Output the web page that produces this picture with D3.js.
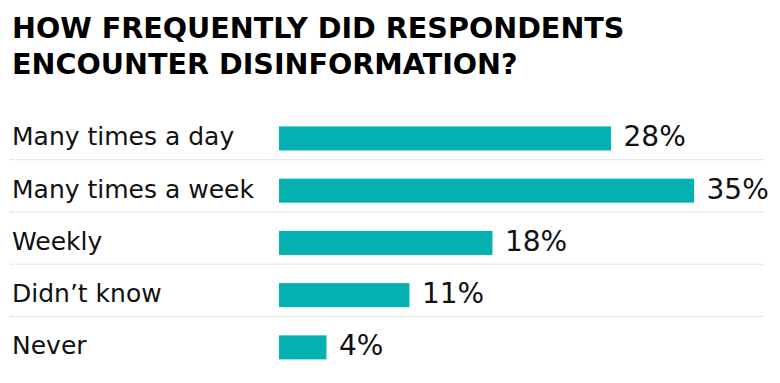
<!DOCTYPE html>
<html>
<head>
<meta charset="utf-8">
<script src="https://cdn.jsdelivr.net/npm/d3@7"></script>
<style>
  html, body { margin: 0; padding: 0; background: #fff; }
  svg { display: block; }
</style>
</head>
<body>
<div id="chart"></div>
<script>
const titleLines = ["HOW FREQUENTLY DID RESPONDENTS", "ENCOUNTER DISINFORMATION?"];
const categories = ["Many times a day", "Many times a week", "Weekly", "Didn\u2019t know", "Never"];
const values = [28, 35, 18, 11, 4];
const valueLabels = ["28%", "35%", "18%", "11%", "4%"];

const W = 780, H = 383;
const FONT = "'DejaVu Sans', sans-serif";
const svg = d3.select("#chart").append("svg").attr("width", W).attr("height", H);

// title
svg.append("g").selectAll("text").data(titleLines).join("text")
  .attr("x", 12)
  .attr("y", (d, i) => 37.5 + i * 36)
  .attr("font-family", FONT)
  .attr("font-weight", "bold")
  .attr("font-size", 28.6)
  .attr("fill", "#000")
  .text(d => d);

const x = d3.scaleLinear().domain([0, 35]).range([279, 694]);
const y = d3.scaleBand().domain(categories).range([112.3, 373.5]).paddingInner(0).paddingOuter(0);
const barH = 24;
const center = c => y(c) + y.bandwidth() / 2;

const rows = svg.append("g").selectAll("g").data(categories).join("g");

// dotted separators (below each row except last)
rows.filter((d, i) => i < categories.length - 1).append("line")
  .attr("x1", 10).attr("x2", 763)
  .attr("y1", d => center(d) + 21.3).attr("y2", d => center(d) + 21.3)
  .attr("stroke", "#c8c8c8").attr("stroke-width", 1).attr("stroke-dasharray", "1,1");

rows.append("rect")
  .attr("x", x(0))
  .attr("y", d => center(d) - barH / 2)
  .attr("width", (d, i) => x(values[i]) - x(0))
  .attr("height", barH)
  .attr("fill", "#02b1b0");

rows.append("text")
  .attr("x", 12)
  .attr("y", d => center(d) + 7)
  .attr("font-family", FONT)
  .attr("font-size", 25)
  .attr("fill", "#111")
  .text(d => d);

rows.append("text")
  .attr("x", (d, i) => x(values[i]) + 12.5)
  .attr("y", d => center(d) + 8)
  .attr("font-family", FONT)
  .attr("font-size", 28)
  .attr("fill", "#111")
  .text((d, i) => valueLabels[i]);
</script>
</body>
</html>
